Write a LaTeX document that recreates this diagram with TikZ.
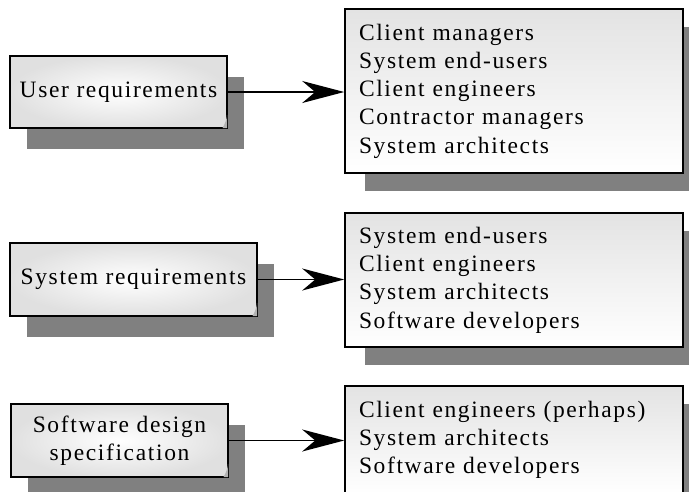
\documentclass[tikz,border=0pt]{standalone}
\usepackage{fontspec}
\setmainfont{Liberation Serif}[LetterSpace=7]
\usetikzlibrary{shadows,arrows.meta}
\begin{document}
\begin{tikzpicture}[x=1pt,y=-1pt,
  txt/.style={font=\fontsize{23.5}{28.3}\selectfont},
  lbox/.style={txt, draw=black, line width=1.6pt, shade, inner color=white, outer color=black!12,
    inner sep=0pt, align=center,
    drop shadow={shadow xshift=17pt, shadow yshift=-21pt, fill=black!50, opacity=1}},
  rbox/.style={txt, draw=black, line width=1.6pt, top color=black!11, bottom color=white,
    inner xsep=14pt, inner ysep=0pt, text width=310pt, align=left, minimum width=338pt,
    drop shadow={shadow xshift=20pt, shadow yshift=-18pt, fill=black!50, opacity=1}},
  curl/.style={fill=black!30},
  arr/.style={line width=1.6pt, -{Stealth[length=42pt, width=22pt, inset=13pt]}}
]
\path[use as bounding box, clip] (0,0) rectangle (689,491);
\fill[white] (0,0) rectangle (689,491);

\node[lbox, minimum width=217pt, minimum height=72pt] (u1) at (118.5,92) {User requirements};
\node[lbox, minimum width=247pt, minimum height=73pt] (u2) at (133.5,279.5) {System requirements};
\node[lbox, minimum width=217pt, minimum height=73pt] (u3) at (119.5,440.5) {Software design\\specification};

\foreach \n in {u1,u2,u3}
  \fill[curl] (\n.south east) ++(-0.8,-14) -- ++(0,13.2) -- ++(-4.5,0)
     .. controls ++(2,-3) and ++(0,4) .. ++(4.5,-13.2) -- cycle;

\node[rbox, minimum height=164pt] (r1) at (514,91)
  {Client managers\\System end-users\\Client engineers\\Contractor managers\\System architects};
\node[rbox, minimum height=134pt] (r2) at (514,280)
  {System end-users\\Client engineers\\System architects\\Software developers};
\node[rbox, minimum height=108pt] (r3) at (514,440)
  {Client engineers (perhaps)\\System architects\\Software developers};

\draw[arr] (u1.east) -- (u1.east -| r1.west);
\draw[arr] (u2.east) -- (u2.east -| r2.west);
\draw[arr] (u3.east) -- (u3.east -| r3.west);
\end{tikzpicture}
\end{document}
